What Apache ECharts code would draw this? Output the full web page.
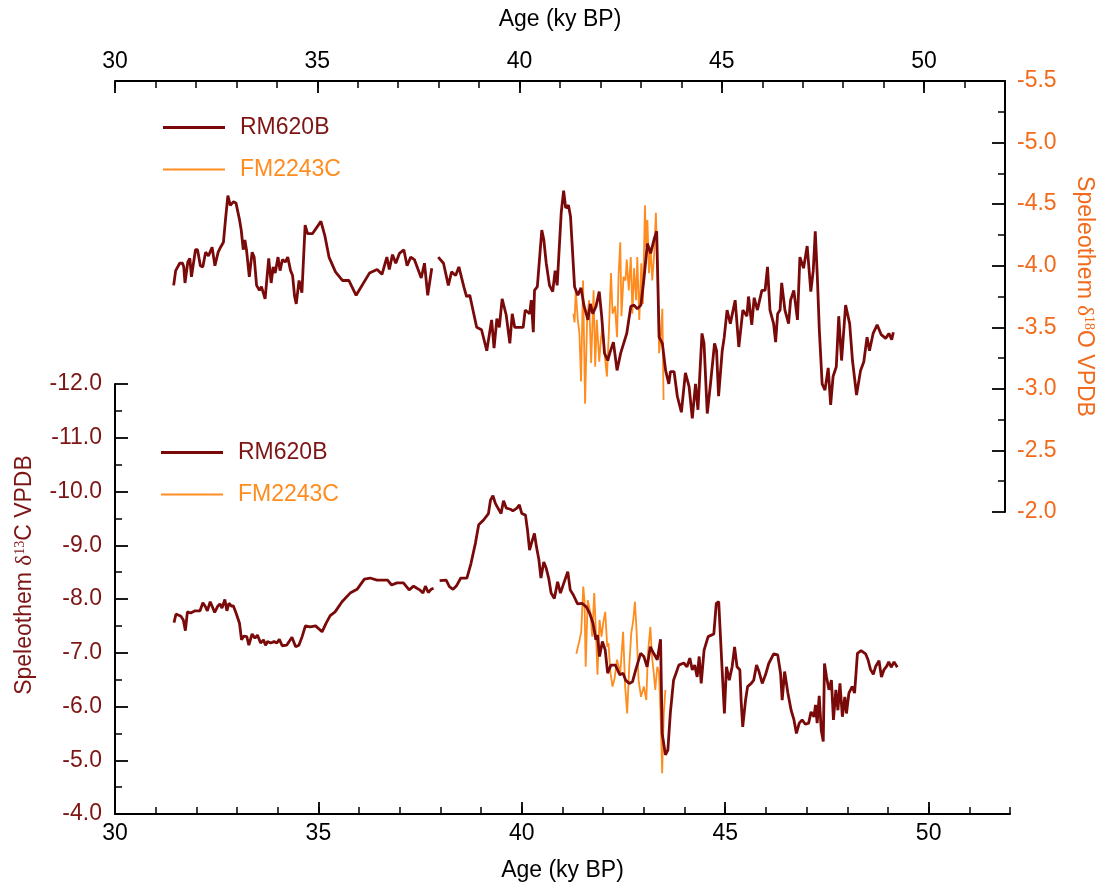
<!DOCTYPE html>
<html>
<head>
<meta charset="utf-8">
<script src="https://cdn.jsdelivr.net/npm/echarts@6/dist/echarts.min.js"></script>
<style>
html,body{margin:0;padding:0;background:#fff;}
#chart{width:1104px;height:884px;}
</style>
</head>
<body>
<div id="chart"></div>
<script>
// ---- Data (age in ky BP, isotope value in ‰ VPDB) ----
const xMajorTicks = [30, 35, 40, 45, 50];
const seriesNames = ['RM620B', 'FM2243C'];

// RM620B δ18O
const rm620bO18 = [
[31.45,-3.84],[31.50,-3.96],[31.60,-4.02],[31.67,-4.02],[31.70,-3.99],[31.73,-3.86],[31.80,-4.03],[31.85,-4.06],[31.89,-3.91],[31.99,-4.13],[32.04,-4.13],[32.11,-4.00],[32.17,-3.99],[32.24,-4.11],[32.31,-4.08],[32.35,-4.08],[32.40,-4.15],[32.47,-4.00],[32.55,-4.11],[32.61,-4.15],[32.68,-4.19],[32.73,-4.37],[32.79,-4.57],[32.85,-4.49],[32.93,-4.52],[32.99,-4.51],[33.08,-4.37],[33.12,-4.29],[33.17,-4.13],[33.21,-4.21],[33.25,-4.13],[33.32,-3.91],[33.39,-4.11],[33.44,-4.07],[33.50,-3.84],[33.57,-3.80],[33.62,-3.83],[33.71,-3.73],[33.80,-4.06],[33.86,-3.86],[33.91,-3.99],[33.96,-3.94],[34.03,-4.07],[34.08,-3.96],[34.14,-4.05],[34.21,-4.03],[34.27,-4.07],[34.34,-3.96],[34.39,-3.92],[34.44,-3.75],[34.48,-3.69],[34.55,-3.88],[34.62,-3.78],[34.70,-4.33],[34.76,-4.26],[34.88,-4.26],[35.09,-4.36],[35.19,-4.24],[35.29,-4.07],[35.45,-3.95],[35.62,-3.88],[35.78,-3.88],[35.96,-3.76],[36.29,-3.94],[36.48,-3.97],[36.60,-3.93],[36.72,-4.07],[36.78,-3.97],[36.86,-4.09],[36.94,-4.02],[37.03,-4.10],[37.14,-4.13],[37.22,-4.00],[37.31,-4.07],[37.40,-4.05],[37.57,-3.90],[37.65,-4.02],[37.73,-3.76],[37.83,-3.98],[37.91,null],
[37.99,-4.07],[38.12,-4.02],[38.24,-3.84],[38.32,-3.95],[38.42,-3.92],[38.50,-3.99],[38.63,-3.82],[38.69,-3.75],[38.77,-3.76],[38.94,-3.50],[39.06,-3.48],[39.19,-3.31],[39.31,-3.56],[39.37,-3.33],[39.44,-3.57],[39.50,-3.50],[39.57,-3.73],[39.67,-3.60],[39.76,-3.37],[39.82,-3.61],[39.88,-3.50],[39.96,-3.50],[40.09,-3.50],[40.14,-3.64],[40.25,-3.61],[40.29,-3.72],[40.34,-3.46],[40.37,-3.80],[40.44,-3.83],[40.55,-4.29],[40.60,-4.21],[40.66,-4.02],[40.74,-3.84],[40.82,-3.79],[40.88,-3.96],[40.93,-3.84],[41.03,-4.43],[41.09,-4.61],[41.14,-4.47],[41.21,-4.49],[41.26,-4.40],[41.36,-3.83],[41.44,-3.76],[41.52,-3.82],[41.59,-3.68],[41.69,-3.56],[41.75,-3.69],[41.81,-3.61],[41.89,-3.67],[41.97,-3.79],[42.03,-3.59],[42.10,-3.29],[42.18,-3.23],[42.24,-3.30],[42.32,-3.38],[42.41,-3.15],[42.50,-3.29],[42.65,-3.45],[42.75,-3.67],[42.83,-3.68],[42.91,-3.65],[43.00,-3.68],[43.08,-3.91],[43.16,-4.18],[43.24,-4.10],[43.33,-4.22],[43.39,-4.28],[43.45,-3.42],[43.53,-3.37],[43.61,-3.15],[43.69,-3.04],[43.73,-3.14],[43.82,-3.14],[43.90,-2.94],[44.00,-2.81],[44.10,-3.13],[44.19,-3.02],[44.27,-2.76],[44.35,-3.04],[44.41,-2.83],[44.51,-3.45],[44.56,-3.37],[44.64,-2.80],[44.72,-3.04],[44.82,-3.37],[44.87,-3.31],[44.92,-2.94],[45.01,-3.31],[45.06,-3.42],[45.13,-3.64],[45.21,-3.53],[45.33,-3.72],[45.42,-3.34],[45.52,-3.64],[45.62,-3.59],[45.66,-3.75],[45.74,-3.52],[45.80,-3.74],[45.88,-3.64],[45.99,-3.80],[46.07,-3.80],[46.13,-3.99],[46.19,-3.64],[46.28,-3.53],[46.33,-3.38],[46.38,-3.61],[46.44,-3.64],[46.48,-3.86],[46.56,-3.64],[46.65,-3.53],[46.70,-3.72],[46.78,-3.80],[46.87,-3.56],[46.93,-4.07],[47.02,-3.98],[47.11,-4.16],[47.20,-3.79],[47.26,-3.96],[47.31,-4.28],[47.36,-3.92],[47.41,-3.48],[47.48,-3.04],[47.55,-2.99],[47.63,-3.17],[47.69,-2.87],[47.75,-3.10],[47.83,-3.18],[47.89,-3.59],[47.96,-3.23],[48.06,-3.68],[48.16,-3.53],[48.23,-3.23],[48.33,-2.95],[48.43,-3.15],[48.51,-3.22],[48.59,-3.42],[48.65,-3.31],[48.74,-3.45],[48.84,-3.52],[48.94,-3.44],[49.05,-3.41],[49.13,-3.45],[49.20,-3.40],[49.24,-3.46]
];

// FM2243C δ18O
const fm2243cO18 = [
[41.33,-3.61],[41.36,-3.54],[41.39,-3.80],[41.44,-3.56],[41.48,-3.45],[41.52,-3.06],[41.57,-3.88],[41.62,-2.88],[41.67,-3.56],[41.72,-3.72],[41.77,-3.21],[41.83,-3.80],[41.87,-3.18],[41.91,-3.56],[41.97,-3.22],[42.01,-3.40],[42.05,-3.50],[42.11,-3.26],[42.16,-3.10],[42.21,-3.48],[42.26,-3.94],[42.30,-3.61],[42.36,-3.67],[42.41,-3.42],[42.45,-3.94],[42.49,-4.19],[42.52,-3.59],[42.57,-3.91],[42.62,-3.88],[42.65,-4.05],[42.70,-3.80],[42.75,-4.07],[42.79,-3.61],[42.83,-3.98],[42.88,-3.72],[42.91,-4.07],[42.96,-3.56],[43.01,-4.02],[43.05,-3.69],[43.10,-4.49],[43.13,-4.15],[43.16,-4.37],[43.20,-3.94],[43.24,-4.15],[43.28,-3.88],[43.33,-4.10],[43.37,-4.43],[43.41,-3.99],[43.45,-3.29],[43.49,-3.42],[43.53,-3.65],[43.56,-2.91]
];

// RM620B δ13C
const rm620bC13 = [
[31.45,-7.56],[31.50,-7.72],[31.62,-7.68],[31.68,-7.61],[31.73,-7.41],[31.78,-7.76],[31.86,-7.74],[31.97,-7.78],[32.09,-7.78],[32.16,-7.93],[32.22,-7.86],[32.27,-7.78],[32.34,-7.95],[32.39,-7.86],[32.45,-7.75],[32.53,-7.87],[32.58,-7.91],[32.63,-7.83],[32.70,-7.99],[32.75,-7.78],[32.80,-7.92],[32.86,-7.87],[32.91,-7.87],[32.98,-7.73],[33.06,-7.55],[33.11,-7.24],[33.17,-7.31],[33.24,-7.30],[33.29,-7.14],[33.37,-7.35],[33.44,-7.27],[33.50,-7.33],[33.58,-7.18],[33.65,-7.24],[33.70,-7.14],[33.75,-7.21],[33.83,-7.18],[33.91,-7.21],[33.98,-7.18],[34.04,-7.25],[34.11,-7.13],[34.22,-7.14],[34.35,-7.29],[34.44,-7.11],[34.52,-7.14],[34.60,-7.30],[34.68,-7.50],[34.80,-7.48],[34.93,-7.50],[35.09,-7.39],[35.19,-7.55],[35.29,-7.69],[35.41,-7.76],[35.58,-7.95],[35.78,-8.11],[35.95,-8.18],[36.13,-8.37],[36.27,-8.39],[36.44,-8.35],[36.70,-8.35],[36.80,-8.26],[36.93,-8.30],[37.09,-8.30],[37.23,-8.17],[37.34,-8.24],[37.42,-8.20],[37.49,-8.17],[37.57,-8.11],[37.63,-8.24],[37.70,-8.12],[37.77,-8.18],[37.83,-8.20],[37.91,null],
[37.98,-8.34],[38.14,-8.35],[38.22,-8.23],[38.31,-8.18],[38.39,-8.24],[38.50,-8.39],[38.65,-8.39],[38.75,-8.66],[38.86,-9.04],[38.94,-9.38],[39.06,-9.47],[39.18,-9.59],[39.23,-9.84],[39.29,-9.92],[39.35,-9.78],[39.40,-9.71],[39.49,-9.59],[39.55,-9.83],[39.62,-9.69],[39.72,-9.67],[39.78,-9.64],[39.88,-9.69],[39.94,-9.75],[40.00,-9.59],[40.09,-9.56],[40.14,-9.28],[40.19,-8.91],[40.25,-9.07],[40.31,-9.22],[40.36,-8.97],[40.42,-8.73],[40.47,-8.39],[40.54,-8.69],[40.60,-8.57],[40.66,-8.39],[40.72,-8.11],[40.80,-8.01],[40.88,-8.32],[40.95,-8.11],[41.03,-8.29],[41.13,-8.51],[41.19,-8.17],[41.27,-8.07],[41.37,-7.91],[41.48,-7.92],[41.59,-7.85],[41.67,-7.73],[41.75,-7.55],[41.82,-7.24],[41.86,-7.33],[41.91,-6.93],[41.98,-7.21],[42.05,-7.05],[42.11,-6.62],[42.19,-6.77],[42.30,-6.77],[42.41,-6.59],[42.49,-6.62],[42.55,-6.49],[42.64,-6.43],[42.72,-6.46],[42.80,-6.68],[42.92,-6.99],[43.00,-6.93],[43.08,-6.74],[43.16,-7.11],[43.24,-6.99],[43.33,-6.87],[43.41,-7.25],[43.45,-5.50],[43.53,-5.10],[43.59,-5.19],[43.65,-5.87],[43.73,-6.49],[43.86,-6.77],[43.98,-6.81],[44.06,-6.74],[44.13,-6.90],[44.19,-6.68],[44.25,-6.77],[44.31,-6.55],[44.36,-6.93],[44.41,-6.43],[44.48,-7.05],[44.58,-7.30],[44.72,-7.35],[44.78,-7.92],[44.84,-7.95],[44.92,-6.74],[44.98,-5.87],[45.03,-6.74],[45.10,-6.49],[45.17,-6.74],[45.23,-7.11],[45.29,-6.74],[45.36,-6.68],[45.39,-6.12],[45.43,-5.62],[45.50,-6.12],[45.55,-6.37],[45.64,-6.43],[45.70,-6.49],[45.77,-6.77],[45.83,-6.65],[45.91,-6.43],[45.99,-6.59],[46.07,-6.80],[46.19,-6.98],[46.29,-6.96],[46.36,-6.62],[46.40,-6.12],[46.46,-6.65],[46.54,-6.25],[46.62,-5.93],[46.69,-5.75],[46.75,-5.50],[46.82,-5.69],[46.89,-5.75],[46.97,-5.67],[47.05,-5.69],[47.11,-5.90],[47.18,-5.81],[47.22,-6.03],[47.26,-5.69],[47.31,-6.20],[47.36,-5.56],[47.41,-5.35],[47.44,-6.80],[47.49,-6.55],[47.55,-6.31],[47.61,-6.49],[47.66,-5.75],[47.72,-6.31],[47.77,-5.93],[47.82,-6.43],[47.88,-5.81],[47.94,-6.18],[47.98,-5.87],[48.04,-6.25],[48.12,-6.37],[48.18,-6.25],[48.25,-6.99],[48.34,-7.04],[48.45,-6.98],[48.51,-6.87],[48.57,-6.69],[48.64,-6.60],[48.70,-6.75],[48.78,-6.85],[48.84,-6.55],[48.90,-6.68],[48.97,-6.75],[49.02,-6.83],[49.08,-6.73],[49.15,-6.83],[49.23,-6.73]
];

// FM2243C δ13C
const fm2243cC13 = [
[41.34,-6.98],[41.42,-7.24],[41.46,-7.39],[41.51,-8.23],[41.54,-7.98],[41.57,-6.74],[41.62,-7.98],[41.69,-7.73],[41.73,-7.30],[41.78,-8.11],[41.82,-7.42],[41.86,-6.59],[41.91,-7.61],[41.96,-7.30],[42.00,-7.55],[42.05,-7.76],[42.10,-7.11],[42.13,-7.18],[42.18,-6.62],[42.23,-6.37],[42.28,-6.52],[42.34,-6.87],[42.42,-6.62],[42.49,-7.39],[42.54,-6.37],[42.59,-5.87],[42.64,-6.74],[42.69,-7.36],[42.74,-7.61],[42.78,-7.95],[42.82,-7.42],[42.87,-6.49],[42.93,-6.18],[43.00,-6.37],[43.06,-6.12],[43.10,-6.99],[43.16,-7.48],[43.20,-6.93],[43.24,-6.65],[43.28,-6.31],[43.33,-6.74],[43.37,-6.65],[43.41,-5.87],[43.45,-4.76],[43.49,-5.87],[43.53,-6.31]
];

// ---- Styles ----
const FONT = 'Liberation Sans, Arial, sans-serif';
const RED_LINE = '#7a0a0a';
const RED_TEXT = '#7d1515';
const ORANGE_LINE = '#ff8c1e';
const ORANGE_AXIS = '#f26a1c';

const chart = echarts.init(document.getElementById('chart'), null, {renderer: 'canvas'});

const gridL = 115, gridR = 94;

function majorX(grid, pos, nameGap) {
  return {
    type: 'value', gridIndex: grid, position: pos, min: 30, max: 52,
    axisLine: {show: true, onZero: false, lineStyle: {color: '#000', width: 2}},
    axisTick: {show: true, inside: true, length: 12, customValues: xMajorTicks, lineStyle: {color: '#000', width: 1.8}},
    axisLabel: {show: true, customValues: xMajorTicks, color: '#000', fontSize: 23, fontFamily: FONT, margin: 8},
    splitLine: {show: false},
    name: 'Age (ky BP)', nameLocation: 'middle', nameGap: nameGap,
    nameTextStyle: {color: '#000', fontSize: 23, fontFamily: FONT}
  };
}
function minorX(grid, pos) {
  return {
    type: 'value', gridIndex: grid, position: pos, min: 30, max: 52, interval: 1,
    axisLine: {show: false, onZero: false},
    axisTick: {show: true, inside: true, length: 7, lineStyle: {color: '#000', width: 1.5}},
    axisLabel: {show: false},
    splitLine: {show: false}
  };
}

const supRich = (color) => ({
  a: {fontSize: 23, fontFamily: FONT, color: color},
  d: {fontSize: 23, fontFamily: 'Liberation Serif, serif', color: color},
  s: {fontSize: 14, fontFamily: 'Liberation Serif, serif', color: color, verticalAlign: 'top', lineHeight: 14}
});
// same rich styles for a raw graphic text element (uses fill)
const supRichFill = (color) => ({
  a: {fontSize: 23, fontFamily: FONT, fill: color},
  d: {fontSize: 23, fontFamily: 'Liberation Serif, serif', fill: color},
  s: {fontSize: 14, fontFamily: 'Liberation Serif, serif', fill: color, verticalAlign: 'top', lineHeight: 14}
});

const ICON_THICK = 'path://M0 0H62V3H0Z';
const ICON_THIN = 'path://M0 0H62V2H0Z';

function legendAt(left, top) {
  return {
    orient: 'vertical', left: left, top: top, padding: 0,
    itemWidth: 62, itemHeight: 3, itemGap: 19,
    selectedMode: false,
    data: [
      {name: seriesNames[0], icon: ICON_THICK, textStyle: {color: RED_TEXT}},
      {name: seriesNames[1], icon: ICON_THIN, textStyle: {color: ORANGE_LINE}}
    ],
    textStyle: {fontSize: 23, fontFamily: FONT, padding: [0, 0, 0, 10]}
  };
}

const option = {
  animation: false,
  backgroundColor: '#fff',
  grid: [
    {left: gridL, right: gridR, top: 81, height: 431},
    {left: gridL, right: gridR, top: 384, height: 430}
  ],
  xAxis: [
    majorX(0, 'top', 50),
    minorX(0, 'top'),
    majorX(1, 'bottom', 45),
    minorX(1, 'bottom')
  ],
  yAxis: [
    {
      type: 'value', gridIndex: 0, position: 'right', min: -5.5, max: -2.0, interval: 0.5, inverse: true,
      axisLine: {show: true, onZero: false, lineStyle: {color: '#000', width: 2}},
      axisTick: {show: true, inside: true, length: 13, lineStyle: {color: '#000', width: 1.8}},
      minorTick: {show: true, splitNumber: 2, length: 7, lineStyle: {color: '#000', width: 1.5}},
      axisLabel: {color: ORANGE_AXIS, fontSize: 23, fontFamily: FONT, margin: 12, formatter: v => v.toFixed(1)},
      splitLine: {show: false}, minorSplitLine: {show: false},
      name: '{a|Speleothem }{d|δ}{s|18}{a|O VPDB}', nameLocation: 'middle', nameRotate: -90, nameGap: 68,
      nameTextStyle: {rich: supRich(ORANGE_AXIS)}
    },
    {
      type: 'value', gridIndex: 1, position: 'left', min: -12, max: -4, interval: 1, inverse: true,
      axisLine: {show: true, onZero: false, lineStyle: {color: '#000', width: 2}},
      axisTick: {show: true, inside: true, length: 13, lineStyle: {color: '#000', width: 1.8}},
      minorTick: {show: true, splitNumber: 2, length: 7, lineStyle: {color: '#000', width: 1.5}},
      axisLabel: {color: RED_TEXT, fontSize: 23, fontFamily: FONT, margin: 13, formatter: v => v.toFixed(1)},
      splitLine: {show: false}, minorSplitLine: {show: false}
    }
  ],
  legend: [legendAt(163, 116), legendAt(161, 441)],
  graphic: [
    {
      type: 'text', x: 25, y: 575, rotation: Math.PI / 2,
      style: {
        text: '{a|Speleothem }{d|δ}{s|13}{a|C VPDB}',
        fill: RED_TEXT,
        rich: supRichFill(RED_TEXT),
        align: 'center', verticalAlign: 'middle'
      }
    }
  ],
  series: [
    {type: 'line', name: seriesNames[1], xAxisIndex: 0, yAxisIndex: 0, data: fm2243cO18, symbol: 'none', showSymbol: false,
     lineStyle: {color: ORANGE_LINE, width: 1.8}, itemStyle: {color: ORANGE_LINE}},
    {type: 'line', name: seriesNames[1], xAxisIndex: 2, yAxisIndex: 1, data: fm2243cC13, symbol: 'none', showSymbol: false,
     lineStyle: {color: ORANGE_LINE, width: 1.8}, itemStyle: {color: ORANGE_LINE}},
    {type: 'line', name: seriesNames[0], xAxisIndex: 0, yAxisIndex: 0, data: rm620bO18, symbol: 'none', showSymbol: false,
     connectNulls: false, lineStyle: {color: RED_LINE, width: 2.8}, itemStyle: {color: RED_LINE}},
    {type: 'line', name: seriesNames[0], xAxisIndex: 2, yAxisIndex: 1, data: rm620bC13, symbol: 'none', showSymbol: false,
     connectNulls: false, lineStyle: {color: RED_LINE, width: 2.8}, itemStyle: {color: RED_LINE}}
  ]
};
chart.setOption(option);
</script>
</body>
</html>
